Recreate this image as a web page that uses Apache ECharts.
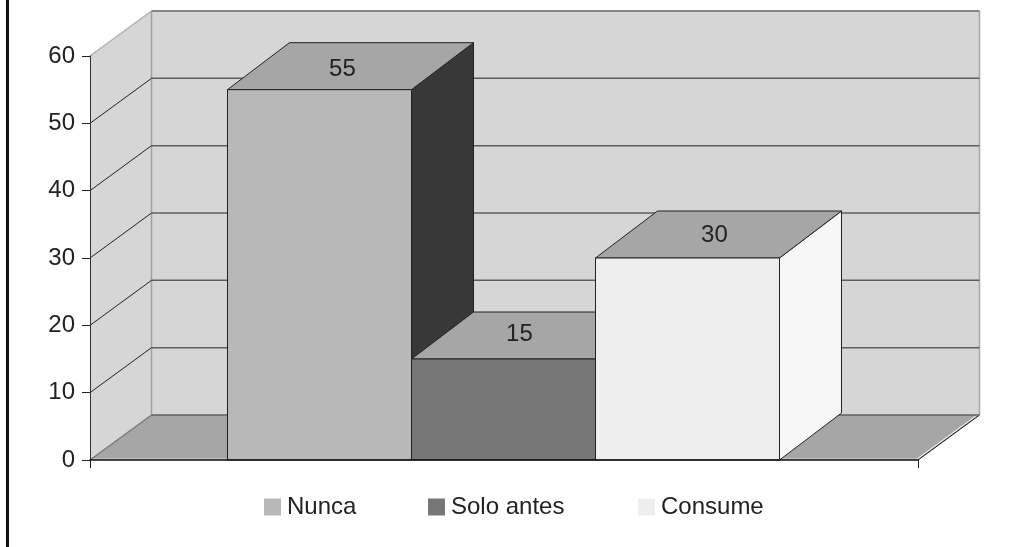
<!DOCTYPE html>
<html>
<head>
<meta charset="utf-8">
<style>html,body{margin:0;padding:0;background:#fff}#c{width:1013px;height:547px}</style>
<script src="https://cdn.jsdelivr.net/npm/echarts@6/dist/echarts.min.js"></script>
</head>
<body>
<div id="c"></div>
<script>
const categories = [''];
const seriesNames = ['Nunca', 'Solo antes', 'Consume'];
const seriesValues = [55, 15, 30];
const frontColors = ['#b8b8b8', '#777777', '#eeeeee'];
const sideColors = ['#383838', '#555555', '#f7f7f7'];
const topColor = '#a6a6a6';
const yTicks = [0, 10, 20, 30, 40, 50, 60];
const legendLefts = [264, 428, 638];
const WALL_DX = 61.5, WALL_DY = -45, BAR_DX = 62, BAR_DY = -47;
const labelNudge = [[0, 3.5], [-7, -1], [4, 1]];
const FONT = '"Liberation Sans", sans-serif';
const FONT_SIZE = 24;

const poly = (points, fill, stroke, lw) => ({
  type: 'polygon', shape: { points },
  style: { fill, stroke: stroke || null, lineWidth: lw || 0 }
});
const seg = (a, b, stroke, lw) => ({
  type: 'line', shape: { x1: a[0], y1: a[1], x2: b[0], y2: b[1] },
  style: { stroke, lineWidth: lw, fill: null }
});

function renderWalls(params, api) {
  const cs = params.coordSys;
  const x0 = cs.x, x1 = cs.x + cs.width;
  const y0 = api.coord([0, yTicks[0]])[1];
  const yT = api.coord([0, yTicks[yTicks.length - 1]])[1];
  const bx0 = x0 + WALL_DX, bx1 = x1 + WALL_DX;
  const by0 = y0 + WALL_DY, byT = yT + WALL_DY;
  return { type: 'group', children: [
    poly([[x0, y0], [x0, yT], [bx0, byT], [bx0, by0]], '#d6d6d6'),
    poly([[bx0, byT], [bx1, byT], [bx1, by0], [bx0, by0]], '#d6d6d6'),
    poly([[x0, y0], [bx0, by0], [bx1, by0], [x1, y0]], topColor),
    seg([x0, y0 - 1], [x1, y0 - 1], '#d8d8d8', 1),
    seg([x0, yT], [bx0, byT], '#b0b0b0', 1.5),
    seg([bx0, byT], [bx0, by0], '#a0a0a0', 1.5),
    seg([bx1, byT], [bx1, by0], '#a8a8a8', 1.5),
    seg([x0, y0], [bx0, by0], '#7a7a7a', 1.5),
    seg([x1 - 1, y0 - 1], [bx1 - 1, by0 - 1], '#ffffff', 1),
    seg([x1, y0], [bx1, by0], '#111111', 1)
  ]};
}

function renderGrid(params, api) {
  const cs = params.coordSys;
  const v = api.value(1);
  const y = api.coord([0, v])[1];
  const x0 = cs.x, x1 = cs.x + cs.width;
  const isTop = v === yTicks[yTicks.length - 1];
  const isBottom = v === yTicks[0];
  const children = [
    seg([x0 + WALL_DX, y + WALL_DY], [x1 + WALL_DX, y + WALL_DY], isTop ? '#858585' : '#5f5f5f', isTop ? 2 : 1.5)
  ];
  if (!isTop && !isBottom) children.push(seg([x0, y], [x0 + WALL_DX, y + WALL_DY], '#222222', 1));
  return { type: 'group', children };
}

function makeBarRenderer(i) {
  return function (params, api) {
    const band = api.size([1, 0])[0];
    const w = band / 4.5;
    const base = api.coord([0, 0]);
    const top = api.coord([0, api.value(1)]);
    const l = base[0] + (i - 1.5) * w - 0.5, r = l + w;
    const stroke = '#222222';
    return { type: 'group', children: [
      poly([[r, top[1]], [r + BAR_DX, top[1] + BAR_DY], [r + BAR_DX, base[1] + BAR_DY], [r, base[1]]], sideColors[i], stroke, 1),
      poly([[l, top[1]], [l + BAR_DX, top[1] + BAR_DY], [r + BAR_DX, top[1] + BAR_DY], [r, top[1]]], topColor, stroke, 1),
      poly([[l, top[1]], [r, top[1]], [r, base[1]], [l, base[1]]], frontColors[i], stroke, 1),
      { type: 'text',
        style: { text: String(api.value(1)),
          x: (l + r) / 2 + BAR_DX * 0.37 + labelNudge[i][0],
          y: top[1] + BAR_DY / 2 + labelNudge[i][1],
          fill: '#222222', font: FONT_SIZE + 'px ' + FONT, textAlign: 'center', textVerticalAlign: 'middle' } }
    ]};
  };
}

const chart = echarts.init(document.getElementById('c'), null, { renderer: 'canvas' });
chart.setOption({
  animation: false,
  backgroundColor: '#ffffff',
  grid: { left: 90, right: 95, top: 56, bottom: 87 },
  xAxis: {
    type: 'category', data: categories, z: 10,
    axisLine: { show: true, lineStyle: { color: '#111111', width: 1.5 } },
    axisTick: { show: true, length: 8, lineStyle: { color: '#222222', width: 1 } },
    axisLabel: { show: false }
  },
  yAxis: {
    type: 'value', min: 0, max: 60, interval: 10, z: 10,
    axisLine: { show: true, lineStyle: { color: '#333333', width: 1 } },
    axisTick: { show: true, length: 8, lineStyle: { color: '#222222', width: 1 } },
    axisLabel: { color: '#222222', fontFamily: FONT, fontSize: FONT_SIZE, margin: 15, padding: [3, 0, 0, 0] },
    splitLine: { show: false }
  },
  legend: seriesNames.map((n, i) => ({
    data: [n], left: legendLefts[i], top: 495, padding: 0,
    icon: 'rect', itemWidth: 17, itemHeight: 17, itemGap: 0,
    itemStyle: { borderWidth: 0 },
    selectedMode: false,
    textStyle: { color: '#222222', fontFamily: FONT, fontSize: FONT_SIZE, padding: [0, 0, 2, 1] }
  })),
  graphic: [{
    type: 'rect', left: 6, top: 0, z: 100,
    shape: { width: 3, height: 547 }, style: { fill: '#111111' }
  }],
  series: [
    { type: 'custom', name: 'walls', silent: true, clip: false, data: [[0, 0]], encode: { x: 0, y: 1 }, renderItem: renderWalls },
    { type: 'custom', name: 'grid', silent: true, clip: false, data: yTicks.map(v => [0, v]), encode: { x: 0, y: 1 }, renderItem: renderGrid }
  ].concat(seriesNames.map((n, i) => ({
    type: 'custom', name: n, clip: false, silent: true,
    itemStyle: { color: frontColors[i] },
    data: [[0, seriesValues[i]]], encode: { x: 0, y: 1 },
    renderItem: makeBarRenderer(i)
  })))
});
</script>
</body>
</html>
